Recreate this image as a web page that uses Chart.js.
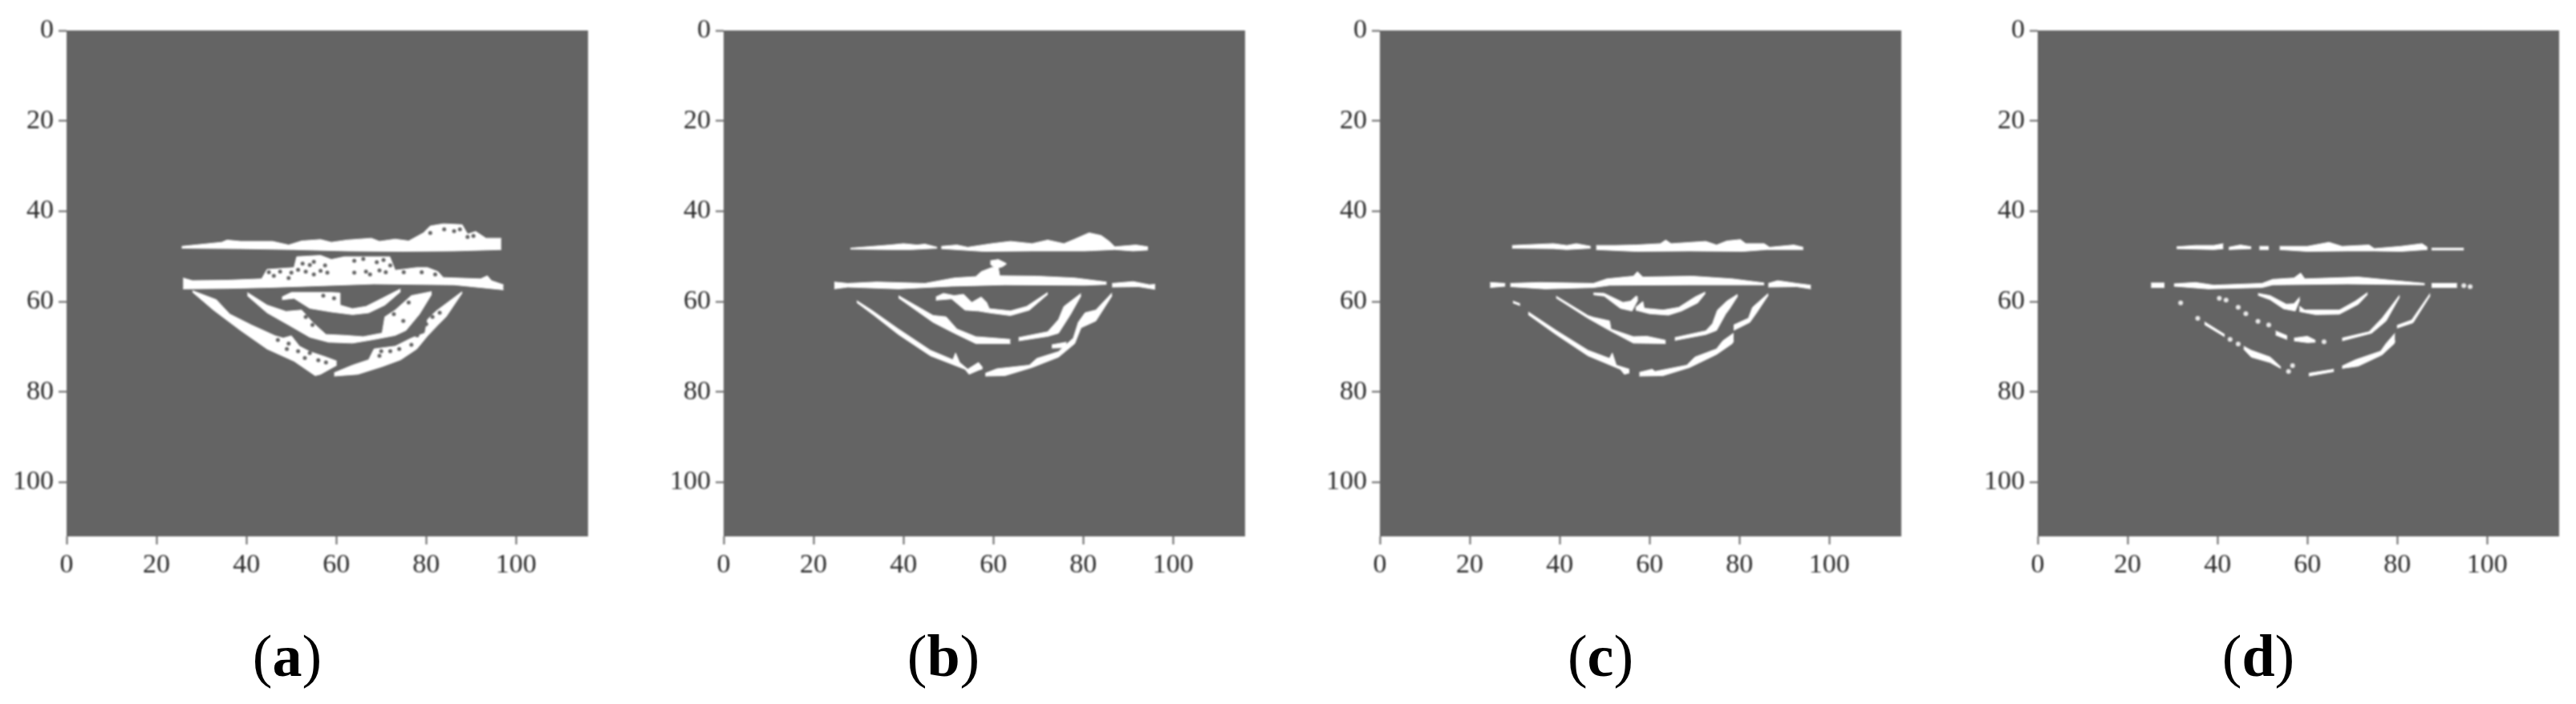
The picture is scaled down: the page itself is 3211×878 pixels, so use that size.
<!DOCTYPE html>
<html>
<head>
<meta charset="utf-8">
<title>Binary images (a)-(d)</title>
<script src="https://cdn.jsdelivr.net/npm/chart.js@4"></script>
<style>
    html, body { margin: 0; padding: 0; background: #fff; }
    body { position: relative; width: 3211px; height: 878px; overflow: hidden; }
    canvas { position: absolute; top: 0; filter: blur(1px); }
    .cap { position: absolute; top: 776px; width: 120px; text-align: center; font: 74px "Liberation Serif", serif; color: #000; }
    .cap b { font-weight: bold; }
</style>
</head>
<body>
<script>
const xTicks = [0, 20, 40, 60, 80, 100];
const yTicks = [0, 20, 40, 60, 80, 100];
const xMax = 116;
const yMax = 112;
const panelLabels = ['a', 'b', 'c', 'd'];

// (a)
const aBand1Top = [[25.6,47.8],[34.5,46.9],[35.7,46.4],[38.7,46.7],[45.8,46.7],[49.4,47.5],[52.3,46.6],[56.5,46.3],[58.9,46.9],[62.4,46.4],[67.8,46.0],[69.6,46.7],[73.1,46.2],[76.1,46.6],[79.4,44.8],[80.9,43.3],[83.8,42.8],[88.0,43.0],[89.2,45.1],[91.0,44.5],[93.3,46.0],[96.7,46.0]];
const aBand1Bot = [[25.6,48.2],[38.7,48.3],[50.6,48.5],[62.4,48.8],[74.3,48.9],[86.2,48.8],[96.7,48.5]];
const aBand2Top = [[25.9,54.8],[28.0,55.4],[35.7,55.3],[43.4,55.0],[44.6,52.9],[50.6,52.5],[51.2,50.1],[56.5,49.8],[58.9,50.7],[61.8,50.1],[71.9,50.1],[73.1,53.1],[77.9,52.5],[80.3,52.5],[82.6,53.4],[83.8,54.7],[92.1,55.0],[93.6,54.3],[94.5,55.4],[97.2,56.3]];
const aBand2Bot = [[25.9,57.2],[35.7,57.1],[44.6,56.9],[53.5,56.6],[68.4,56.1],[86.2,56.3],[97.2,57.4]];
const aArc1Top = [[47.9,59.0],[50.0,58.0],[58.9,58.0],[60.7,58.1],[60.8,60.8],[63.6,61.6],[66.6,61.1],[70.2,59.3],[74.3,57.2]];
const aArc1Bot = [[47.9,59.6],[50.6,59.3],[54.1,61.5],[58.9,62.3],[63.6,62.9],[67.2,62.5],[70.8,60.8],[74.3,57.8]];
const aArc2Top = [[40.2,58.0],[44.6,60.8],[48.8,62.2],[52.3,61.9],[54.7,64.6],[57.7,67.3],[61.8,67.5],[66.0,67.8],[70.2,67.0],[70.8,63.4],[73.1,61.9],[76.7,58.7],[81.2,57.8]];
const aArc2Bot = [[40.2,58.7],[44.6,62.5],[49.4,65.2],[54.1,67.9],[58.3,69.0],[63.6,69.2],[68.4,68.4],[73.1,67.5],[75.5,66.4],[78.5,62.8],[81.2,58.4]];
const aArc3LTop = [[28.0,57.6],[33.3,59.6],[36.3,62.8],[41.1,65.2],[46.4,67.6],[48.2,68.1],[50.0,67.6],[51.8,69.9],[54.1,71.1],[57.7,72.3],[60.1,73.2]];
const aArc3LBot = [[28.0,57.9],[32.7,61.9],[38.7,66.4],[44.6,70.5],[50.6,73.2],[55.3,76.4],[56.5,76.1],[60.1,74.1]];
const aArc3RTop = [[59.5,75.8],[63.6,74.1],[67.2,72.9],[68.4,70.5],[73.1,69.9],[76.7,68.1],[79.7,67.0],[80.3,64.0],[82.1,62.2],[88.0,57.8]];
const aArc3RBot = [[59.5,76.5],[64.8,76.1],[70.2,74.4],[74.3,72.9],[77.9,70.5],[80.3,67.6],[82.6,65.2],[84.4,63.4],[88.0,58.1]];
const aGaps = [[54.1,51.9],[56.5,53.2],[53.2,53.4],[66.6,53.4],[69.6,53.1],[69.0,51.3],[46.1,54.3],[49.4,54.8],[86.2,44.4],[80.9,44.8],[89.2,45.7],[59.5,59.3],[57.1,58.7],[53.2,63.4],[54.7,65.2],[72.8,62.8],[76.1,60.2],[74.9,64.3],[81.4,63.4],[76.7,69.6],[69.6,72.0],[49.4,69.3],[54.1,71.4],[57.7,73.5],[61.9,74.1],
    [52.5,51.6],[55.0,51.2],[57.5,52.0],[51.5,53.0],[58.0,53.6],[55.0,54.0],[64.0,51.0],[66.0,50.6],[70.5,50.8],[72.0,52.0],[64.0,53.6],[67.5,54.0],[71.0,53.5],[45.0,53.5],[47.5,53.4],[50.0,53.6],[75.0,53.5],[79.0,53.5],[82.0,54.0],[84.0,44.0],[87.5,44.0],[90.5,45.5],[47.0,68.5],[49.0,70.5],[51.5,71.0],[53.0,72.5],[56.0,73.0],[70.0,71.0],[72.0,71.0],[74.0,70.5],[78.0,67.5],[80.0,65.0],[83.0,62.5]];

// (b)
const bBand1aTop = [[28.2,48.2],[37.1,47.5],[40.0,47.2],[43.0,47.5],[44.8,47.3],[47.5,48.0]];
const bBand1aBot = [[28.2,48.4],[37.1,48.5],[41.8,48.5],[47.5,48.2]];
const bBand1bTop = [[48.4,47.8],[51.9,47.5],[54.3,48.0],[59.6,47.2],[63.8,46.7],[68.6,47.2],[72.1,46.4],[75.7,47.2],[78.1,46.2],[81.3,44.8],[84.0,45.4],[85.8,46.7],[87.0,47.9],[91.7,47.5],[94.4,47.9]];
const bBand1bBot = [[48.4,48.3],[57.9,48.9],[68.6,48.8],[80.4,48.8],[87.0,48.5],[91.1,48.8],[94.4,48.6]];
const bBand2aTop = [[24.6,55.7],[27.6,56.0],[34.1,55.7],[44.8,56.0],[51.3,54.8],[56.1,54.5],[57.3,53.4],[59.6,52.5],[61.1,52.5],[61.4,54.3],[69.7,54.4],[78.1,54.8],[85.2,55.7]];
const bBand2aBot = [[24.6,57.2],[27.6,56.8],[38.9,57.2],[50.7,56.6],[62.6,56.3],[80.4,56.4],[85.2,56.2]];
const bBand2bTop = [[86.4,56.0],[91.1,55.6],[94.7,56.3],[96.0,56.2]];
const bBand2bBot = [[86.4,56.8],[92.3,56.7],[96.0,57.3]];
const bSpotTop = [[59.3,51.0],[61.1,50.7],[62.9,51.6]];
const bSpotBot = [[59.3,51.7],[60.5,52.7],[62.0,52.3],[62.9,51.7]];
const bArc1Top = [[47.2,59.0],[48.9,58.2],[51.3,58.7],[53.4,58.4],[55.2,60.2],[57.3,59.0],[58.5,60.2],[59.1,61.6],[63.8,62.1],[67.4,61.1],[72.1,58.0]];
const bArc1Bot = [[47.2,59.7],[50.7,59.4],[53.7,61.9],[56.7,62.1],[59.1,62.5],[63.8,63.1],[68.0,61.9],[72.1,58.4]];
const bArc2LTop = [[38.9,58.7],[46.6,63.1],[49.5,63.4],[51.9,66.1],[56.1,67.8],[60.2,68.1],[63.8,68.4]];
const bArc2LBot = [[38.9,59.2],[46.6,64.6],[51.3,67.0],[56.1,69.3],[63.8,69.3]];
const bArc2RTop = [[65.6,68.0],[72.1,66.7],[74.5,64.0],[75.7,61.1],[79.5,58.2]];
const bArc2RBot = [[65.6,68.7],[72.1,67.7],[74.5,67.0],[77.2,62.8],[79.5,58.7]];
const bArc3LTop = [[29.6,59.8],[32.9,61.9],[38.9,66.1],[46.0,70.8],[51.0,72.9],[51.6,71.4],[52.5,73.5],[54.3,75.0],[56.7,73.5],[57.6,74.6]];
const bArc3LBot = [[29.6,60.2],[33.5,63.1],[38.9,67.3],[46.0,72.0],[53.7,75.0],[54.6,76.1],[56.7,75.2],[57.6,74.9]];
const bArc3RTop = [[58.2,75.9],[60.8,74.9],[68.0,74.1],[69.7,72.6],[74.5,71.1],[77.8,68.1],[78.9,64.6],[80.4,62.5],[82.8,61.9],[86.4,58.1]];
const bArc3RBot = [[58.2,76.5],[62.6,76.4],[68.6,74.6],[74.5,72.3],[78.1,69.3],[79.5,65.8],[82.8,64.3],[86.4,58.7]];
const bBranchTop = [[73.0,69.6],[76.3,69.0]];
const bBranchBot = [[73.0,70.3],[76.3,70.2]];

// (c)
const cBand1aTop = [[29.4,47.6],[38.6,47.2],[41.6,47.6],[43.7,47.2],[46.9,47.8]];
const cBand1aBot = [[29.4,48.2],[38.6,48.3],[41.6,48.5],[46.9,48.2]];
const cBand1bTop = [[48.1,47.6],[52.3,47.6],[57.0,47.5],[62.4,47.2],[63.6,46.4],[64.8,47.2],[72.5,46.7],[74.9,47.5],[77.2,46.6],[80.2,46.3],[81.4,47.2],[85.5,47.2],[86.7,48.0],[92.1,47.5],[94.2,48.0]];
const cBand1bBot = [[48.1,48.5],[57.0,48.9],[68.9,48.8],[80.8,48.9],[86.1,48.5],[94.2,48.5]];
const cBand2aTop = [[24.5,55.8],[27.9,56.0]];
const cBand2aBot = [[24.5,56.9],[27.9,56.6]];
const cBand2bTop = [[29.0,56.0],[35.6,55.8],[47.5,56.0],[50.5,55.0],[56.4,54.4],[57.3,53.4],[58.5,54.6],[69.5,54.4],[78.4,55.0],[85.5,55.9]];
const cBand2bBot = [[29.0,56.7],[36.8,57.2],[47.5,56.9],[51.1,56.4],[68.9,56.3],[80.8,56.3],[85.5,56.3]];
const cBand2cTop = [[86.4,56.0],[88.5,55.4],[92.7,56.0],[95.9,56.4]];
const cBand2cBot = [[86.4,56.8],[92.7,56.7],[95.9,57.2]];
const cArc1aTop = [[47.5,58.1],[49.9,58.2],[54.1,60.2],[55.8,59.9],[57.0,58.8],[57.4,59.0]];
const cArc1aBot = [[47.5,58.5],[49.9,58.8],[53.5,61.5],[56.1,62.1],[57.4,59.6]];
const cArc1bTop = [[56.9,61.3],[58.5,60.0],[58.8,61.5],[63.0,61.9],[66.5,61.3],[70.1,59.0],[72.4,57.9]];
const cArc1bBot = [[56.9,61.9],[60.0,62.7],[64.2,63.0],[67.1,62.1],[70.7,60.3],[72.4,58.2]];
const cArc2LTop = [[39.2,58.8],[46.3,63.1],[47.5,63.5],[51.1,64.3],[51.4,66.1],[56.4,67.8],[59.4,67.7],[63.6,68.6]];
const cArc2LBot = [[39.2,59.2],[46.3,63.7],[51.1,66.4],[56.4,69.2],[63.6,69.3]];
const cArc2RTop = [[65.6,68.0],[72.5,66.5],[74.0,64.9],[75.1,61.9],[77.2,59.9],[79.6,58.4]];
const cArc2RBot = [[65.6,68.6],[72.5,67.3],[74.9,66.4],[76.9,62.8],[77.8,61.6],[79.6,58.8]];
const cArc3aTop = [[29.6,59.9],[31.2,60.5]];
const cArc3aBot = [[29.6,60.3],[31.2,60.9]];
const cArc3bTop = [[33.0,62.3],[39.2,66.4],[46.3,70.8],[51.1,72.6],[51.7,71.4],[52.6,74.1],[55.5,75.0]];
const cArc3bBot = [[33.0,62.9],[39.2,67.3],[46.3,72.0],[53.5,75.0],[54.4,76.1],[55.5,75.8]];
const cArc3cTop = [[57.7,75.7],[60.6,75.0],[61.2,75.5],[68.3,74.1],[70.1,72.3],[74.9,70.5],[76.3,68.7],[78.7,67.0]];
const cArc3cBot = [[57.7,76.5],[63.0,76.4],[68.9,74.6],[74.9,71.7],[78.4,69.3],[78.7,68.7]];
const cArc3dTop = [[78.7,65.2],[82.0,63.7],[82.9,61.3],[86.4,58.2]];
const cArc3dBot = [[78.7,66.4],[82.3,64.6],[83.8,62.5],[86.4,58.6]];

// (d)
const dBand1aTop = [[30.9,47.9],[35.1,47.6],[39.2,47.6],[41.3,47.2]];
const dBand1aBot = [[30.9,48.3],[39.2,48.5],[41.3,48.3]];
const dBand1bTop = [[42.5,48.0],[45.1,47.5],[47.5,47.9]];
const dBand1bBot = [[42.5,48.5],[47.5,48.3]];
const dBand1cTop = [[49.3,47.8],[51.4,47.8]];
const dBand1cBot = [[49.3,48.5],[51.4,48.5]];
const dBand1dTop = [[53.8,47.8],[60.0,47.8],[64.8,46.9],[67.7,47.8],[73.7,47.5],[74.9,48.3],[80.8,47.8],[85.5,47.2],[86.7,48.0]];
const dBand1dBot = [[53.8,48.5],[60.0,48.9],[68.9,48.8],[74.9,48.8],[80.8,48.9],[86.7,48.5]];
const dBand1eTop = [[87.6,48.2],[94.8,48.2]];
const dBand1eBot = [[87.6,48.6],[94.8,48.6]];
const dBand2aTop = [[25.2,55.9],[28.2,55.9]];
const dBand2aBot = [[25.2,56.9],[28.2,56.9]];
const dBand2bTop = [[30.3,56.1],[35.1,55.8],[39.2,56.4],[49.9,56.0],[52.3,55.1],[57.0,54.8],[58.5,53.7],[59.4,55.0],[71.3,54.6],[79.6,55.4],[86.1,56.0]];
const dBand2bBot = [[30.3,56.6],[38.0,57.2],[49.9,56.9],[52.3,56.3],[68.9,56.1],[86.1,56.3]];
const dBand2cTop = [[87.6,56.0],[93.3,56.0]];
const dBand2cBot = [[87.6,56.9],[93.3,56.9]];
const dArc1aTop = [[49.0,58.2],[51.7,58.7],[55.3,60.6],[57.0,60.5],[58.3,59.0]];
const dArc1aBot = [[49.0,58.6],[51.7,59.6],[54.7,61.6],[57.3,62.1],[58.3,59.6]];
const dArc1bTop = [[58.2,61.0],[59.4,61.9],[67.1,61.9],[70.7,59.9],[73.4,58.0]];
const dArc1bBot = [[58.2,62.2],[61.8,62.9],[67.1,62.8],[71.3,60.6],[73.4,58.4]];
const dArc2aTop = [[52.9,66.5],[55.5,67.6]];
const dArc2aBot = [[52.9,67.4],[55.5,68.4]];
const dArc2bTop = [[57.0,68.1],[60.0,67.7],[61.8,68.6]];
const dArc2bBot = [[57.0,68.7],[60.0,69.1],[61.8,69.0]];
const dArc2RTop = [[67.7,68.1],[73.7,66.7],[76.6,63.7],[80.5,58.6]];
const dArc2RBot = [[67.7,68.7],[74.3,67.0],[77.5,64.3],[80.5,59.0]];
const dArc3aTop = [[37.1,64.5],[41.6,67.3]];
const dArc3aBot = [[37.1,65.1],[41.6,67.8]];
const dArc3bTop = [[45.8,69.9],[47.5,70.8],[51.7,72.3],[54.1,74.5]];
const dArc3bBot = [[45.8,70.5],[47.5,72.3],[51.7,73.5],[54.1,74.8]];
const dArc3cTop = [[60.3,75.9],[65.9,75.0]];
const dArc3cBot = [[60.3,76.5],[65.9,75.5]];
const dArc3dTop = [[67.7,74.3],[70.7,72.9],[76.3,71.0],[77.5,69.3],[79.5,67.0]];
const dArc3dBot = [[67.7,74.8],[71.3,74.3],[76.6,71.8],[79.3,69.3],[79.5,68.7]];
const dArc3eTop = [[79.9,65.3],[83.2,64.1],[87.3,58.2]];
const dArc3eBot = [[79.9,65.9],[83.5,64.7],[87.3,58.7]];
const dDots = [[94.8,56.5],[96.2,56.7],[40.4,59.3],[41.9,59.7],[44.6,61.3],[46.3,62.7],[49.0,64.4],[51.4,65.2],[63.7,68.9],[31.8,60.3],[35.6,63.7],[42.8,68.4],[44.6,69.4],[56.7,74.2],[55.8,75.5]];

const panelStrands = [
    [[aBand1Top, aBand1Bot], [aBand2Top, aBand2Bot], [aArc1Top, aArc1Bot], [aArc2Top, aArc2Bot], [aArc3LTop, aArc3LBot], [aArc3RTop, aArc3RBot]],
    [[bBand1aTop, bBand1aBot], [bBand1bTop, bBand1bBot], [bBand2aTop, bBand2aBot], [bBand2bTop, bBand2bBot], [bSpotTop, bSpotBot], [bArc1Top, bArc1Bot], [bArc2LTop, bArc2LBot], [bArc2RTop, bArc2RBot], [bArc3LTop, bArc3LBot], [bArc3RTop, bArc3RBot], [bBranchTop, bBranchBot]],
    [[cBand1aTop, cBand1aBot], [cBand1bTop, cBand1bBot], [cBand2aTop, cBand2aBot], [cBand2bTop, cBand2bBot], [cBand2cTop, cBand2cBot], [cArc1aTop, cArc1aBot], [cArc1bTop, cArc1bBot], [cArc2LTop, cArc2LBot], [cArc2RTop, cArc2RBot], [cArc3aTop, cArc3aBot], [cArc3bTop, cArc3bBot], [cArc3cTop, cArc3cBot], [cArc3dTop, cArc3dBot]],
    [[dBand1aTop, dBand1aBot], [dBand1bTop, dBand1bBot], [dBand1cTop, dBand1cBot], [dBand1dTop, dBand1dBot], [dBand1eTop, dBand1eBot], [dBand2aTop, dBand2aBot], [dBand2bTop, dBand2bBot], [dBand2cTop, dBand2cBot], [dArc1aTop, dArc1aBot], [dArc1bTop, dArc1bBot], [dArc2aTop, dArc2aBot], [dArc2bTop, dArc2bBot], [dArc2RTop, dArc2RBot], [dArc3aTop, dArc3aBot], [dArc3bTop, dArc3bBot], [dArc3cTop, dArc3cBot], [dArc3dTop, dArc3dBot], [dArc3eTop, dArc3eBot]]
];
const panelGaps = [aGaps, [], [], []];
const panelDots = [[], [], [], dDots];

// page layout, px
const BG = '#646464';
const plotLeft = [83, 902, 1720, 2540];
const captionCenter = [358, 1176, 1995, 2815];
const AXIS_W = 83, AXIS_H = 60, PLOT_W = 650, PLOT_TOP = 38, PLOT_H = 631;
const tickColor = '#666';

const toXY = p => ({ x: p[0], y: p[1] });

// grey plot rectangle behind the marks
const plotBackground = {
    id: 'plotBackground',
    beforeDraw(chart) {
        const a = chart.chartArea;
        chart.ctx.fillStyle = BG;
        chart.ctx.fillRect(a.left, a.top, a.width, a.height);
    }
};

function buildDatasets(i) {
    const base = { showLine: false, pointRadius: 0, borderWidth: 0 };
    // first dataset is painted last, gaps have to stay on top of the strands
    const sets = [
        { ...base, data: panelGaps[i].map(toXY), pointRadius: 2.5, pointBackgroundColor: BG },
        { ...base, data: panelDots[i].map(toXY), pointRadius: 3, pointBackgroundColor: '#e8e8e8' }
    ];
    panelStrands[i].forEach(([top, bot]) => {
        const line = { showLine: true, tension: 0, pointRadius: 0, borderWidth: 1, borderColor: '#fff' };
        sets.push({ ...line, data: top.map(toXY), fill: '+1', backgroundColor: '#fff' });
        sets.push({ ...line, data: bot.map(toXY), fill: false });
    });
    return sets;
}

function axisOptions(ticks, max, extra) {
    return {
        min: 0,
        max: max,
        afterBuildTicks: scale => { scale.ticks = ticks.map(v => ({ value: v })); },
        grid: { drawOnChartArea: false, drawTicks: true, tickLength: 10, tickWidth: 2, tickColor: tickColor },
        border: { display: false },
        ticks: {
            autoSkip: false,
            maxRotation: 0,
            color: '#2a2a2a',
            padding: 6,
            font: { family: '"Liberation Serif", serif', size: 34 }
        },
        ...extra
    };
}

panelLabels.forEach((label, i) => {
    const canvas = document.createElement('canvas');
    canvas.width = AXIS_W + PLOT_W + 20;
    canvas.height = PLOT_TOP + PLOT_H + AXIS_H;
    canvas.style.left = (plotLeft[i] - AXIS_W) + 'px';
    document.body.appendChild(canvas);

    new Chart(canvas.getContext('2d'), {
        type: 'scatter',
        data: { datasets: buildDatasets(i) },
        options: {
            responsive: false,
            animation: false,
            devicePixelRatio: 1,
            layout: { padding: { top: PLOT_TOP, right: 20, left: 0, bottom: 0 } },
            plugins: { legend: { display: false }, tooltip: { enabled: false }, title: { display: false } },
            scales: {
                x: axisOptions(xTicks, xMax, { type: 'linear', position: 'bottom', afterFit: s => { s.height = AXIS_H; } }),
                y: axisOptions(yTicks, yMax, { type: 'linear', reverse: true, afterFit: s => { s.width = AXIS_W; } })
            }
        },
        plugins: [plotBackground]
    });

    const cap = document.createElement('div');
    cap.className = 'cap';
    cap.style.left = (captionCenter[i] - 60) + 'px';
    cap.innerHTML = '(<b>' + label + '</b>)';
    document.body.appendChild(cap);
});
</script>
</body>
</html>
